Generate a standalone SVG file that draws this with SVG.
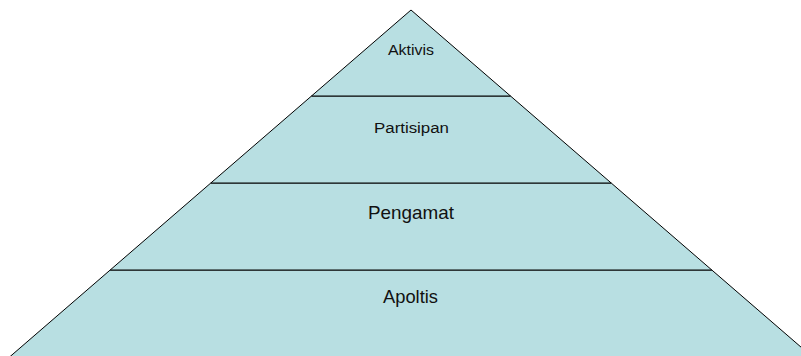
<svg xmlns="http://www.w3.org/2000/svg" width="801" height="356" viewBox="0 0 801 356">
<style>
.lvl{fill:#B8DFE2;stroke:#000;stroke-width:1;stroke-linejoin:miter}
.t{font-family:"Liberation Sans",Arial,sans-serif;fill:#111;text-anchor:middle}
.s{font-size:15.5px}
.b{font-size:18.5px}
</style>
<rect width="801" height="356" fill="#fff"/>
<g id="level-apoltis">
<polygon class="lvl" points="110.2,270 711.8,270 813.6,358 8.4,358"/>
<text class="t b" x="410.5" y="303" textLength="55" lengthAdjust="spacingAndGlyphs">Apoltis</text>
</g>
<g id="level-pengamat">
<polygon class="lvl" points="210.8,183 611.2,183 711.8,270 110.2,270"/>
<text class="t b" x="411" y="219" textLength="86" lengthAdjust="spacingAndGlyphs">Pengamat</text>
</g>
<g id="level-partisipan">
<polygon class="lvl" points="311.5,96 510.5,96 611.2,183 210.8,183"/>
<text class="t s" x="411.5" y="133" textLength="75" lengthAdjust="spacingAndGlyphs">Partisipan</text>
</g>
<g id="level-aktivis">
<polygon class="lvl" points="411,10 510.5,96 311.5,96"/>
<text class="t s" x="411" y="55" textLength="46" lengthAdjust="spacingAndGlyphs">Aktivis</text>
</g>
<g id="connectors"></g>
</svg>
